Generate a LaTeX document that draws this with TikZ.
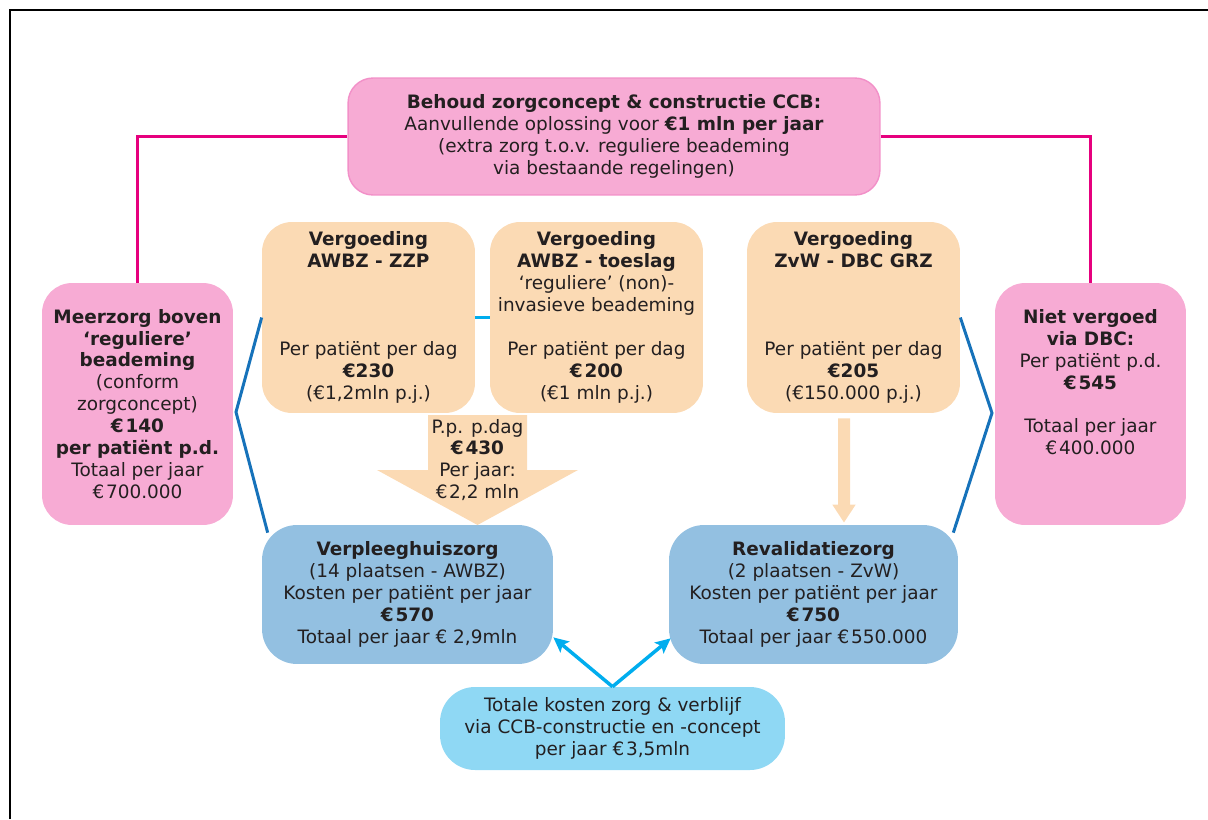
\documentclass[tikz,border=0pt]{standalone}
\usepackage{fontspec}
\setmainfont{DejaVu Sans}
\usepackage{tikz}
\usetikzlibrary{
	arrows.meta,
	positioning
}

\definecolor{roze}{HTML}{F7ABD4}
\definecolor{rozerand}{HTML}{F290C8}
\definecolor{lijnroze}{HTML}{E6007E}
\definecolor{perzik}{HTML}{FBDAB4}
\definecolor{blauw}{HTML}{93C0E1}
\definecolor{lichtblauw}{HTML}{8FD8F4}
\definecolor{cyaan}{HTML}{00ADEE}
\definecolor{donkerblauw}{HTML}{1672BA}
\definecolor{tekst}{HTML}{231F20}

\newcommand{\eur}{€\kern1pt}

\begin{document}
\begin{tikzpicture}[
				x=0.02cm, y=-0.02cm,
				vak/.style={rounded corners=0.6cm, align=center, text=tekst, inner sep=0pt, font=\fontsize{10.5}{12.5}\selectfont},
				rozevak/.style={vak, fill=roze, minimum width=3.82cm, minimum height=4.84cm},
				perzikvak/.style={vak, fill=perzik, minimum width=4.26cm, minimum height=3.82cm},
				blauwvak/.style={vak, fill=blauw, rounded corners=0.7cm, minimum height=2.78cm},
				rozelijn/.style={lijnroze, line width=1.4pt},
				zijlijn/.style={donkerblauw, line width=1.7pt},
				pijl/.style={cyaan, line width=2pt, -{Stealth[length=0.3cm, width=0.28cm, inset=0.06cm]}}
			]
				\useasboundingbox (0,0) rectangle (1208,819);
				% kader
				\draw[line width=1.3pt] (10,819) -- (10,10) -- (1208,10);

				% bovenste vak
				\node[vak, fill=roze, draw=rozerand, line width=0.8pt, rounded corners=0.5cm, minimum width=10.64cm, minimum height=2.34cm] (behoud) at (614,136.5)
					{\textbf{Behoud zorgconcept \& constructie CCB:}\\ Aanvullende oplossing voor \textbf{€1 mln per jaar}\\ (extra zorg t.o.v. reguliere beademing\\ via bestaande regelingen)};

				% zijvakken
				\node[rozevak] (meerzorg) at (137.5,404)
					{\textbf{Meerzorg boven}\\ \textbf{‘reguliere’}\\ \textbf{beademing}\\ (conform\\ zorgconcept)\\ \textbf{\eur140}\\ \textbf{per patiënt p.d.}\\ Totaal per jaar\\ \eur700.000};
				\node[rozevak] (nietvergoed) at (1090.5,404)
					{\textbf{Niet vergoed}\\ \textbf{via DBC:}\\ Per patiënt p.d.\\ \textbf{\eur545}\\[12.5pt] Totaal per jaar\\ \eur400.000\\[12.5pt] \mbox{}};

				% vergoedingen
				\node[perzikvak] (zzp) at (368.5,317.5)
					{\textbf{Vergoeding}\\ \textbf{AWBZ - ZZP}\\[37.5pt] Per patiënt per dag\\ \textbf{€230}\\ (€1,2mln p.j.)};
				\node[perzikvak] (toeslag) at (596.5,317.5)
					{\textbf{Vergoeding}\\ \textbf{AWBZ - toeslag}\\ ‘reguliere’ (non)-\\ invasieve beademing\\[12.5pt] Per patiënt per dag\\ \textbf{\eur200}\\ (€1 mln p.j.)};
				\node[perzikvak] (zvw) at (853.5,317.5)
					{\textbf{Vergoeding}\\ \textbf{ZvW - DBC GRZ}\\[37.5pt] Per patiënt per dag\\ \textbf{€205}\\ (€150.000 p.j.)};

				% zorgvakken
				\node[blauwvak, minimum width=5.82cm] (verpleeg) at (407.5,594.5)
					{\textbf{Verpleeghuiszorg}\\ (14 plaatsen - AWBZ)\\ Kosten per patiënt per jaar\\ \textbf{\eur570}\\ Totaal per jaar € 2,9mln};
				\node[blauwvak, minimum width=5.78cm] (revalidatie) at (813.5,594.5)
					{\textbf{Revalidatiezorg}\\ (2 plaatsen - ZvW)\\ Kosten per patiënt per jaar\\ \textbf{\eur750}\\ Totaal per jaar \eur550.000};
				\node[vak, fill=lichtblauw, rounded corners=0.7cm, minimum width=6.9cm, minimum height=1.66cm] (totaal) at (612.5,728.5)
					{Totale kosten zorg \& verblijf\\ via CCB-constructie en -concept\\ per jaar \eur3,5mln};

				% brede pijl
				\fill[perzik] (428,415) -- (527,415) -- (527,470) -- (578,470) -- (477.5,525) -- (377,470) -- (428,470) -- cycle;
				\node[vak] (perdag) at (477.5,460) {P.p. p.dag\\ \textbf{\eur430}\\ Per jaar:\\ \eur2,2 mln};

				% smalle pijl
				\draw[perzik, line width=0.24cm, -{Triangle[length=0.36cm, width=0.44cm]}]
					([xshift=-0.19cm, yshift=-0.1cm]zvw.south) -- ([xshift=0.61cm, yshift=0.04cm]revalidatie.north);

				% roze lijnen
				\draw[rozelijn] (behoud.west) -| (meerzorg.north);
				\draw[rozelijn] (behoud.east) -| (nietvergoed.north);

				% blauwe lijnen
				\coordinate (knikl) at (236,412);
				\coordinate (knikr) at (992,413);
				\draw[zijlijn] (zzp.west) -- (knikl) -- ([xshift=0.12cm, yshift=-0.16cm]verpleeg.north west);
				\draw[zijlijn] (zvw.east) -- (knikr) -- ([xshift=-0.1cm, yshift=-0.16cm]revalidatie.north east);
				\draw[cyaan, line width=1.7pt] (zzp.east) -- (toeslag.west);

				% pijlen naar zorgvakken
				\draw[pijl] (totaal.north) -- ([yshift=0.54cm]verpleeg.south east);
				\draw[pijl] (totaal.north) -- ([xshift=0.04cm, yshift=0.52cm]revalidatie.south west);
			\end{tikzpicture}
\end{document}
